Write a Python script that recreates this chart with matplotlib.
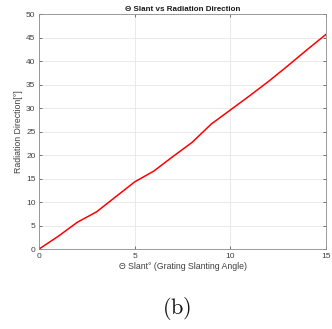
import matplotlib.pyplot as plt
import numpy as np

# slant angle vs radiation direction (degrees)
slant = [0, 1, 2, 3, 4, 5, 6, 7, 8, 9, 10, 11, 12, 13, 14, 15]
radiation = [0, 2.7, 5.7, 7.9, 11.1, 14.3, 16.6, 19.7, 22.7, 26.6, 29.6,
             32.6, 35.7, 39.0, 42.4, 45.7]

plt.rcParams['font.family'] = ['Liberation Sans', 'DejaVu Sans']
plt.rcParams['mathtext.fontset'] = 'cm'
AXCOL = '#404040'

fig = plt.figure(figsize=(3.32, 3.29), dpi=100)
ax = fig.add_axes([0.1175, 0.243, 0.8645, 0.714])

ax.plot(slant, radiation, color='#ff0000', lw=1.1)

ax.set_xlim(0, 15)
ax.set_ylim(0, 50)
ax.set_xticks([0, 5, 10, 15])
ax.set_yticks(np.arange(0, 51, 5))
ax.grid(True, color='#e6e6e6', lw=0.6)
ax.set_axisbelow(True)
ax.tick_params(direction='in', length=2.5, width=0.5, labelsize=6,
               colors=AXCOL, top=True, right=True, pad=2.5)
for s in ax.spines.values():
    s.set_color('#8c8c8c')
    s.set_linewidth(0.6)

ax.set_title('Θ Slant vs Radiation Direction', fontsize=5.8, fontweight='bold',
             color='#1a1a1a', pad=2.5)
ax.set_xlabel('Θ Slant° (Grating Slanting Angle)', fontsize=6.3, color=AXCOL,
              labelpad=2)
ax.set_ylabel('Radiation Direction[°]', fontsize=6.3, color=AXCOL, labelpad=2)

fig.text(0.533, 0.061, r'$\mathrm{(b)}$', fontsize=16,
         ha='center', va='center', color='#111111')

plt.savefig('out.png', dpi=100)
